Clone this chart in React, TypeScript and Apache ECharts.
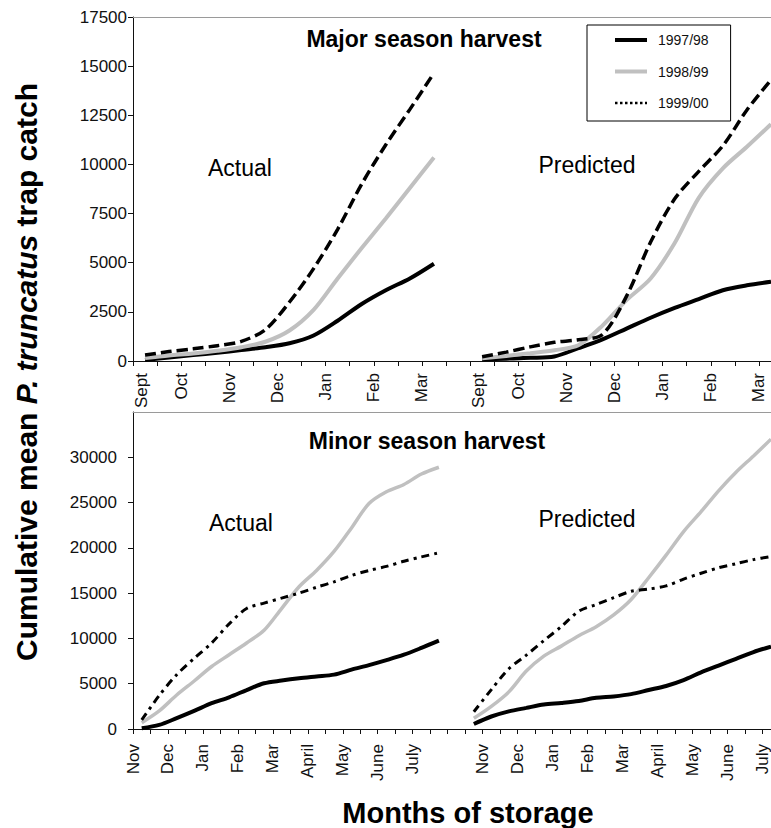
import React, { useEffect, useRef } from "react";
import * as echarts from "echarts";

const FONT = '"Liberation Sans", Arial, Helvetica, sans-serif';

// Month labels for each harvest panel
const majorMonths = ["Sept", "Oct", "Nov", "Dec", "Jan", "Feb", "Mar"];
const minorMonths = ["Nov", "Dec", "Jan", "Feb", "Mar", "April", "May", "June", "July"];

// Seasons shown in the legend
const seasons = ["1997/98", "1998/99", "1999/00"];

// Major season harvest, cumulative catch sampled every half month
const majorActual9798 = [50, 180, 300, 420, 560, 700, 900, 1300, 2050, 2900, 3600, 4200, 4950];
const majorActual9899 = [150, 280, 380, 520, 700, 980, 1550, 2600, 4200, 5750, 7250, 8800, 10350];
const majorActual9900 = [300, 480, 620, 780, 1000, 1600, 3000, 4700, 6700, 9000, 11000, 12800, 14650];
const majorPred9798 = [80, 120, 160, 230, 650, 1100, 1650, 2200, 2700, 3150, 3600, 3850, 4030];
const majorPred9899 = [140, 260, 400, 550, 800, 1800, 3100, 4200, 6000, 8300, 9800, 10900, 12050];
const majorPred9900 = [220, 450, 720, 950, 1080, 1350, 3300, 6050, 8250, 9650, 10950, 12770, 14300];

// Minor season harvest, cumulative catch sampled every half month
const minorActual9798 = [80, 450, 1200, 2000, 2850, 3500, 4300, 5050, 5350, 5600, 5800, 6000, 6550, 7050, 7600, 8200, 8950, 9750];
const minorActual9899 = [700, 2000, 3750, 5300, 6900, 8200, 9500, 10900, 13300, 15700, 17500, 19600, 22200, 24900, 26200, 27000, 28150, 28900];
const minorActual9900 = [1000, 3700, 6000, 7800, 9500, 11600, 13300, 13900, 14450, 15000, 15650, 16250, 16950, 17500, 17950, 18520, 19000, 19450];
const minorPred9798 = [550, 1380, 1950, 2330, 2700, 2880, 3100, 3450, 3600, 3850, 4300, 4750, 5400, 6250, 7000, 7750, 8500, 9100];
const minorPred9899 = [1180, 2500, 4100, 6400, 8050, 9150, 10300, 11300, 12600, 14300, 16700, 19200, 21800, 24000, 26300, 28350, 30150, 32000];
const minorPred9900 = [1900, 4350, 6650, 8150, 9750, 11300, 13000, 13750, 14500, 15200, 15450, 15800, 16550, 17200, 17800, 18250, 18700, 19050];

// Axis layout in half-month units
const MAJOR_MAX = 26.5;
const MINOR_MAX = 36.5;
const MAJOR_PANELS = [0, 14];
const MINOR_PANELS = [0, 20];
const FIRST_LABEL_NUDGE_MAJOR = 0.35;
const SAMPLE_OFFSET = 0.5;

type LabelEntry = { value: number; text: string };

function buildLabels(months: string[], panels: number[], nudge: number): LabelEntry[] {
  const out: LabelEntry[] = [];
  panels.forEach((p) => {
    months.forEach((m, i) => out.push({ value: p + 2 * i + (i === 0 ? nudge : 0), text: m }));
  });
  return out;
}

function integerTicks(max: number): number[] {
  const out: number[] = [];
  for (let v = 0; v <= max; v++) out.push(v);
  return out;
}

function pairs(start: number, values: number[]): number[][] {
  return values.map((v, i) => [start + SAMPLE_OFFSET + i, v]);
}

const BLACK = "#000000";
const GREY = "#c0c0c0";

export default function App() {
  const ref = useRef<HTMLDivElement>(null);

  useEffect(() => {
    if (!ref.current) return;
    const chart = echarts.init(ref.current, undefined, { renderer: "svg" });

    const majorLabels = buildLabels(majorMonths, MAJOR_PANELS, FIRST_LABEL_NUDGE_MAJOR);
    const minorLabels = buildLabels(minorMonths, MINOR_PANELS, 0);
    const fmt = (entries: LabelEntry[]) => (val: number) => {
      const e = entries.find((x) => Math.abs(x.value - val) < 1e-6);
      return e ? e.text : "";
    };

    const bottomAxis = (grid: number, max: number, entries: LabelEntry[], margin: number) => ({
      type: "value",
      gridIndex: grid,
      position: "bottom",
      min: 0,
      max,
      axisLine: { show: true, onZero: false, lineStyle: { color: "#111", width: 1 } },
      axisTick: {
        show: true,
        customValues: integerTicks(Math.floor(max)),
        length: 5,
        lineStyle: { color: "#111", width: 1 },
      },
      axisLabel: {
        customValues: entries.map((e) => e.value),
        formatter: fmt(entries),
        rotate: 90,
        margin,
        fontSize: 17,
        color: "#111",
        fontFamily: FONT,
      },
      splitLine: { show: false },
    });

    const topBorder = (grid: number, max: number) => ({
      type: "value",
      gridIndex: grid,
      position: "top",
      min: 0,
      max,
      axisLine: { show: true, onZero: false, lineStyle: { color: "#9a9a9a", width: 1 } },
      axisTick: { show: false },
      axisLabel: { show: false },
      splitLine: { show: false },
    });

    const yAxis = (grid: number, max: number, interval: number, margin: number) => ({
      type: "value",
      gridIndex: grid,
      min: 0,
      max,
      interval,
      axisLine: { show: true, lineStyle: { color: "#111", width: 1 } },
      axisTick: { show: true, length: 5, lineStyle: { color: "#111", width: 1 } },
      axisLabel: {
        margin,
        fontSize: 17,
        color: "#111",
        fontFamily: FONT,
        showMaxLabel: grid === 0,
        formatter: (v: number) => String(v),
      },
      splitLine: { show: false },
    });

    const line = (
      name: string,
      xIdx: number,
      yIdx: number,
      data: number[][],
      color: string,
      width: number,
      type: any
    ) => ({
      type: "line",
      name,
      xAxisIndex: xIdx,
      yAxisIndex: yIdx,
      data,
      symbol: "none",
      smooth: 0.3,
      lineStyle: { color, width, type, cap: "butt" },
      itemStyle: { color },
    });

    const majorDash = [11, 5];
    const minorDash = [8, 5, 3, 5];

    const series = [
      line(seasons[0], 0, 0, pairs(MAJOR_PANELS[0], majorActual9798), BLACK, 4, "solid"),
      line(seasons[1], 0, 0, pairs(MAJOR_PANELS[0], majorActual9899), GREY, 4, "solid"),
      line(seasons[2], 0, 0, pairs(MAJOR_PANELS[0], majorActual9900), BLACK, 3.5, majorDash),
      line(seasons[0], 0, 0, pairs(MAJOR_PANELS[1], majorPred9798), BLACK, 4, "solid"),
      line(seasons[1], 0, 0, pairs(MAJOR_PANELS[1], majorPred9899), GREY, 4, "solid"),
      line(seasons[2], 0, 0, pairs(MAJOR_PANELS[1], majorPred9900), BLACK, 3.5, majorDash),
      line(seasons[0], 2, 1, pairs(MINOR_PANELS[0], minorActual9798), BLACK, 4, "solid"),
      line(seasons[1], 2, 1, pairs(MINOR_PANELS[0], minorActual9899), GREY, 3.5, "solid"),
      line(seasons[2], 2, 1, pairs(MINOR_PANELS[0], minorActual9900), BLACK, 3, minorDash),
      line(seasons[0], 2, 1, pairs(MINOR_PANELS[1] - 1, minorPred9798), BLACK, 4, "solid"),
      line(seasons[1], 2, 1, pairs(MINOR_PANELS[1] - 1, minorPred9899), GREY, 3.5, "solid"),
      line(seasons[2], 2, 1, pairs(MINOR_PANELS[1] - 1, minorPred9900), BLACK, 3, minorDash),
    ];

    const panelText = (text: string, x: number, y: number, bold: boolean, size: number) => ({
      type: "text",
      x,
      y,
      silent: true,
      style: {
        text,
        fill: "#000",
        fontSize: size,
        fontWeight: bold ? "bold" : "normal",
        fontFamily: FONT,
        align: "center",
        verticalAlign: "middle",
      },
    });

    chart.setOption({
      animation: false,
      backgroundColor: "#ffffff",
      grid: [
        { left: 133, top: 17, right: 0, height: 344 },
        { left: 133, top: 412, right: 0, height: 317 },
      ],
      xAxis: [
        bottomAxis(0, MAJOR_MAX, majorLabels, 12),
        topBorder(0, MAJOR_MAX),
        bottomAxis(1, MINOR_MAX, minorLabels, 15),
        topBorder(1, MINOR_MAX),
      ],
      yAxis: [yAxis(0, 17500, 2500, 6), yAxis(1, 35000, 5000, 16)],
      legend: {
        orient: "vertical",
        left: 587,
        top: 25,
        padding: [8, 22, 11, 26],
        itemWidth: 32,
        itemHeight: 14,
        itemGap: 17.5,
        borderColor: "#000",
        borderWidth: 1,
        backgroundColor: "#fff",
        selectedMode: false,
        itemStyle: { opacity: 0 },
        textStyle: { fontSize: 14, color: "#111", fontFamily: FONT, padding: [8, 0, 0, 6] },
        data: [
          { name: seasons[0], lineStyle: { width: 4 } },
          { name: seasons[1], lineStyle: { width: 4 } },
          { name: seasons[2], lineStyle: { type: "dotted", width: 2.5 } },
        ],
      },
      series,
      graphic: [
        panelText("Major season harvest", 424, 39, true, 23),
        panelText("Actual", 240, 168, false, 23),
        panelText("Predicted", 587, 165, false, 23),
        panelText("Minor season harvest", 427, 441, true, 23),
        panelText("Actual", 241, 523, false, 23),
        panelText("Predicted", 587, 519, false, 23),
        panelText("Months of storage", 468, 813, true, 29),
        {
          type: "text",
          x: 26,
          y: 372,
          rotation: Math.PI / 2,
          silent: true,
          style: {
            text: "{n|Cumulative mean }{i|P. truncatus}{n| trap catch}",
            align: "center",
            verticalAlign: "middle",
            fill: "#000",
            rich: {
              n: { fontSize: 30, fontWeight: "bold", fontFamily: FONT, fill: "#000" },
              i: { fontSize: 30, fontWeight: "bold", fontStyle: "italic", fontFamily: FONT, fill: "#000" },
            },
          },
        },
      ],
    });

    return () => chart.dispose();
  }, []);

  return (
    <div
      ref={ref}
      style={{ position: "fixed", left: 0, top: 0, width: 771, height: 828, background: "#fff" }}
    />
  );
}
